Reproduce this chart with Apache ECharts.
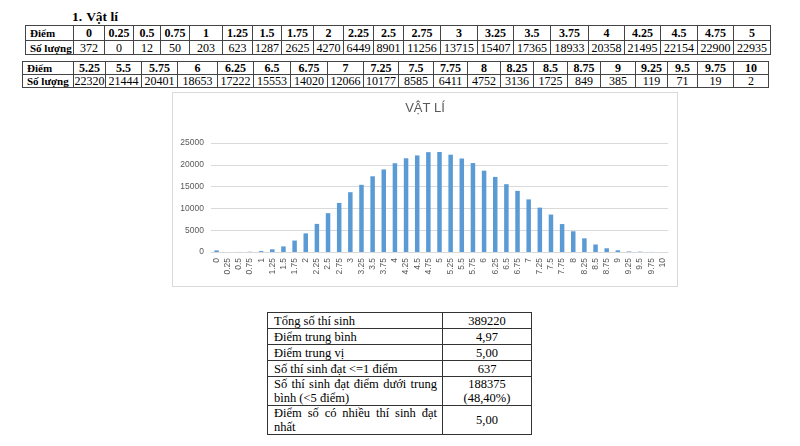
<!DOCTYPE html>
<html><head><meta charset="utf-8">
<script src="https://cdn.jsdelivr.net/npm/echarts@6/dist/echarts.min.js"></script>
<style>
body{margin:0;width:800px;height:446px;background:#fff;position:relative;overflow:hidden;font-family:"Liberation Serif","Times New Roman",serif;color:#000}
.abs{position:absolute}
table{border-collapse:collapse;table-layout:fixed}
.tt td{border:1px solid #444;padding:0;text-align:center;font-size:12px;white-space:nowrap;overflow:hidden;line-height:12px}
.tt tr.h td{font-weight:bold}
.tt td.lab{text-align:left;padding-left:4px;font-weight:bold;font-size:11px}
#sum td{border:1px solid #333;font-size:12.5px;line-height:14px;padding:0}
#sum td.l{text-align:justify;padding:0 5px 0 6px}
#sum td.v{text-align:center}
#chartBox{left:172px;top:92px;width:506px;height:195px;border:1px solid #d9d9d9;box-sizing:border-box}
#chart{width:504px;height:193px}
</style>
</head><body>
<div class="abs" style="left:72px;top:9px;font-weight:bold;font-size:13.5px;line-height:15px;white-space:nowrap"><span id="secNum"></span><span id="secTitle" style="margin-left:4px"></span></div>
<table class="abs tt" id="t1" style="left:25px;top:25px;width:745px"></table>
<table class="abs tt" id="t2" style="left:22px;top:61px;width:746px"></table>
<div class="abs" id="chartBox"><div id="chart"></div></div>
<table class="abs" id="sum" style="left:267px;top:312px;width:264px"></table>
<script>
// ---- data ----
const sectionNumber = '1.';
const sectionTitle = 'Vật lí';
const chartTitle = 'VẬT LÍ';
const rowLabelScore = 'Điểm';
const rowLabelCount = 'Số lượng';
const scores = ['0','0.25','0.5','0.75','1','1.25','1.5','1.75','2','2.25','2.5','2.75','3','3.25','3.5','3.75','4','4.25','4.5','4.75','5',
  '5.25','5.5','5.75','6','6.25','6.5','6.75','7','7.25','7.5','7.75','8','8.25','8.5','8.75','9','9.25','9.5','9.75','10'];
const counts = [372,0,12,50,203,623,1287,2625,4270,6449,8901,11256,13715,15407,17365,18933,20358,21495,22154,22900,22935,
  22320,21444,20401,18653,17222,15553,14020,12066,10177,8585,6411,4752,3136,1725,849,385,119,71,19,2];
const yTicks = [0,5000,10000,15000,20000,25000];
const summaryLabels = ['Tổng số thí sinh','Điểm trung bình','Điểm trung vị','Số thí sinh đạt <=1 điểm','Số thí sinh đạt điểm dưới trung bình (<5 điểm)','Điểm số có nhiều thí sinh đạt nhất'];
const summaryValues = [['389220'],['4,97'],['5,00'],['637'],['188375','(48,40%)'],['5,00']];

// ---- layout (not data) ----
const splitAt = 21;
const t1Widths = [48,31,29,27,29,33,30,29,32,30,30,30,37,37,36,37,38,36,36,37,36,37];
const t2Widths = [51,32,36,36,40,36,37,37,36,35,35,34,33,33,34,33,35,32,30,36,35];
const t1Rows = [15,14];
const t2Rows = [13,13];
const sumWidths = [175,89];
const sumRows = [16,16,16,16,29,29];

document.getElementById('secNum').textContent = sectionNumber;
document.getElementById('secTitle').textContent = sectionTitle;

function esc(s){return s.replace(/&/g,'&amp;').replace(/</g,'&lt;').replace(/>/g,'&gt;');}
function buildTable(id, sc, ct, widths, rows){
  let h = '<colgroup>' + widths.map(w=>'<col style="width:'+w+'px">').join('') + '</colgroup>';
  h += '<tr class="h" style="height:'+rows[0]+'px"><td class="lab">'+esc(rowLabelScore)+'</td>' + sc.map(s=>'<td>'+esc(s)+'</td>').join('') + '</tr>';
  h += '<tr style="height:'+rows[1]+'px"><td class="lab">'+esc(rowLabelCount)+'</td>' + ct.map(c=>'<td>'+c+'</td>').join('') + '</tr>';
  document.getElementById(id).innerHTML = h;
}
buildTable('t1', scores.slice(0,splitAt), counts.slice(0,splitAt), t1Widths, t1Rows);
buildTable('t2', scores.slice(splitAt), counts.slice(splitAt), t2Widths, t2Rows);

let sh = '<colgroup>' + sumWidths.map(w=>'<col style="width:'+w+'px">').join('') + '</colgroup>';
summaryLabels.forEach((l,i)=>{
  sh += '<tr style="height:'+sumRows[i]+'px"><td class="l">'+esc(l)+'</td><td class="v">'+summaryValues[i].map(esc).join('<br>')+'</td></tr>';
});
document.getElementById('sum').innerHTML = sh;

const chart = echarts.init(document.getElementById('chart'), null, {renderer:'canvas'});
chart.setOption({
  animation:false,
  textStyle:{fontFamily:'"Liberation Sans", Arial, sans-serif'},
  title:{text:chartTitle, left:'center', top:9, padding:0,
    textStyle:{fontSize:13, fontWeight:'normal', color:'#595959', fontFamily:'"Liberation Sans", Arial, sans-serif'}},
  grid:{left:38, top:50, width:457, height:109},
  xAxis:{type:'category', data:scores,
    axisLine:{lineStyle:{color:'#d9d9d9'}}, axisTick:{show:false},
    axisLabel:{rotate:90, interval:0, fontSize:8.5, color:'#595959', margin:6}},
  yAxis:{type:'value', min:yTicks[0], max:yTicks[yTicks.length-1], interval:yTicks[1]-yTicks[0],
    axisLine:{show:false}, axisTick:{show:false},
    axisLabel:{fontSize:8.5, color:'#595959', margin:7, formatter:function(v){return String(v);}},
    splitLine:{lineStyle:{color:'#d9d9d9'}}},
  series:[{type:'bar', data:counts, barWidth:4.5, itemStyle:{color:'#5b9bd5'}}]
});
</script>
</body></html>
